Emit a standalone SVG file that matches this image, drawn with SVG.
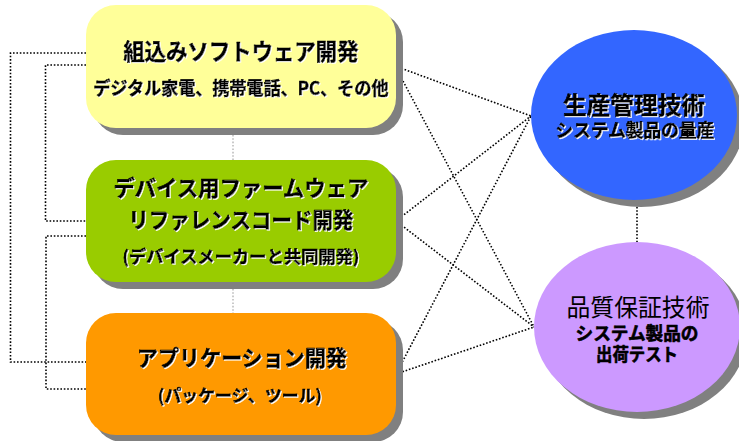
<svg xmlns="http://www.w3.org/2000/svg" width="739" height="441" viewBox="0 0 739 441">
<defs>
<filter id="emb" x="-5%" y="-20%" width="110%" height="140%">
<feOffset in="SourceAlpha" dx="1.2" dy="1.2" result="o"/>
<feFlood flood-color="#FFFFFF"/>
<feComposite in2="o" operator="in" result="w"/>
<feMerge><feMergeNode in="w"/><feMergeNode in="SourceGraphic"/></feMerge>
</filter>
</defs>
<style>
text{font-family:"Noto Sans CJK JP","Noto Sans",sans-serif;text-anchor:middle;fill:#000}
.b{font-weight:bold;stroke:#000;stroke-width:0.6;stroke-linejoin:round}
.e{filter:url(#emb)}
.sh{fill:#808080}
.dot{fill:none;stroke:#000;stroke-width:1.6;stroke-dasharray:1.6 1.8}
.gdot{fill:none;stroke:#BDBDBD;stroke-width:1.6;stroke-dasharray:1.6 1.8}
</style>
<rect width="739" height="441" fill="#FFFFFF"/>
<g id="connectors">
<polyline class="dot" points="86,53 10.5,53 10.5,362 86,362"/>
<polyline class="dot" points="86,65 45.5,65 45.5,221 86,221"/>
<polyline class="dot" points="86,236 46,236 46,389 86,389"/>
<line class="gdot" x1="233" y1="128" x2="233" y2="160"/>
<line class="gdot" x1="233" y1="282" x2="233" y2="313"/>
<line class="dot" x1="395" y1="66" x2="531" y2="116"/>
<line class="dot" x1="395" y1="66" x2="534" y2="327"/>
<line class="dot" x1="396" y1="221" x2="531" y2="116"/>
<line class="dot" x1="396" y1="221" x2="534" y2="327"/>
<line class="dot" x1="396" y1="374" x2="531" y2="116"/>
<line class="dot" x1="396" y1="374" x2="534" y2="327"/>
<line class="dot" x1="637" y1="200" x2="637" y2="243"/>
</g>
<g id="embedded">
<rect class="sh" x="93" y="12" width="310" height="123" rx="30"/>
<rect x="86" y="5" width="310" height="123" rx="30" fill="#FFFF99"/>
<text class="b e" x="241" y="60" font-size="23" textLength="235" lengthAdjust="spacingAndGlyphs">組込みソフトウェア開発</text>
<text class="b e" x="241" y="95" font-size="18" textLength="295" lengthAdjust="spacingAndGlyphs">デジタル家電、携帯電話、PC、その他</text>
</g>
<g id="firmware">
<rect class="sh" x="93" y="167" width="310" height="122" rx="30"/>
<rect x="86" y="160" width="310" height="122" rx="30" fill="#99CC00"/>
<text class="b e" x="241" y="196" font-size="22" textLength="255" lengthAdjust="spacingAndGlyphs">デバイス用ファームウェア</text>
<text class="b e" x="241" y="228" font-size="22" textLength="225" lengthAdjust="spacingAndGlyphs">リファレンスコード開発</text>
<text class="b e" x="241" y="263" font-size="17" textLength="237" lengthAdjust="spacingAndGlyphs">(デバイスメーカーと共同開発)</text>
</g>
<g id="application">
<rect class="sh" x="93" y="320" width="310" height="122" rx="30"/>
<rect x="86" y="313" width="310" height="122" rx="30" fill="#FF9900"/>
<text class="b e" x="242" y="366" font-size="22" textLength="210" lengthAdjust="spacingAndGlyphs">アプリケーション開発</text>
<text class="b e" x="240" y="402" font-size="17" textLength="164" lengthAdjust="spacingAndGlyphs">(パッケージ、ツール)</text>
</g>
<g id="production">
<ellipse class="sh" cx="641" cy="122" rx="103" ry="85"/>
<ellipse cx="634" cy="115" rx="103" ry="85" fill="#3366FF"/>
<text class="b e"><tspan x="634" y="114" font-size="24" textLength="142" lengthAdjust="spacingAndGlyphs">生産管理技術</tspan><tspan x="635" y="137" font-size="18" textLength="159" lengthAdjust="spacingAndGlyphs">システム製品の量産</tspan></text>
</g>
<g id="quality">
<ellipse class="sh" cx="644" cy="334" rx="103" ry="85"/>
<ellipse cx="637" cy="327" rx="103" ry="85" fill="#CC99FF"/>
<text><tspan x="638" y="316" font-size="24" textLength="143" lengthAdjust="spacingAndGlyphs">品質保証技術</tspan><tspan class="b" x="637" y="340" font-size="18" textLength="123" lengthAdjust="spacingAndGlyphs">システム製品の</tspan><tspan class="b" x="637" y="361" font-size="18" textLength="82" lengthAdjust="spacingAndGlyphs">出荷テスト</tspan></text>
</g>
</svg>
